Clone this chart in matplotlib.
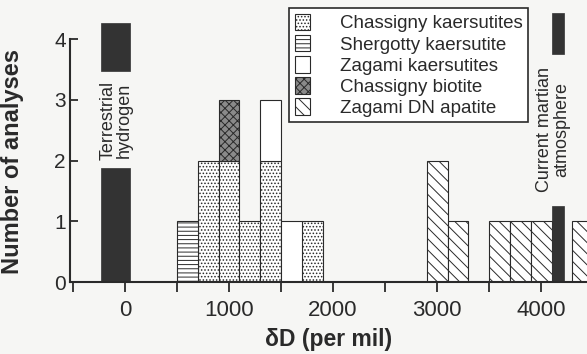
import matplotlib
matplotlib.use("Agg")
import matplotlib.pyplot as plt
from matplotlib.patches import Patch
from matplotlib.ticker import MultipleLocator

plt.rcParams['font.family'] = ['Liberation Sans', 'DejaVu Sans']
plt.rcParams['hatch.linewidth'] = 0.7

BIN = 200

# histogram bins (left edge, per mil) and counts for each series
chas_kaers_x = [700, 900, 1100, 1300, 1700]
chas_kaers_n = [2, 2, 1, 2, 1]
sherg_kaers_x = [500]
sherg_kaers_n = [1]
zag_kaers_x = [1300, 1500]
zag_kaers_n = [1, 1]
chas_bio_x = [900]
chas_bio_n = [1]
zag_apat_x = [2900, 3100, 3500, 3700, 3900, 4300]
zag_apat_n = [2, 1, 1, 1, 1, 1]

# reference bars (terrestrial hydrogen, current martian atmosphere)
terr_x, terr_w = -230, 280
terr_segs = [(0, 1.88), (3.47, 4.27)]
mars_x, mars_w = 4100, 115
mars_segs = [(0, 1.26), (3.75, 4.43)]

series = [
    ("Chassigny kaersutites", chas_kaers_x, chas_kaers_n, dict(facecolor='white', hatch='.....')),
    ("Shergotty kaersutite", sherg_kaers_x, sherg_kaers_n, dict(facecolor='white', hatch='----')),
    ("Zagami kaersutites", zag_kaers_x, zag_kaers_n, dict(facecolor='white', hatch='')),
    ("Chassigny biotite", chas_bio_x, chas_bio_n, dict(facecolor='#8a8a8a', hatch='xxxx')),
    ("Zagami DN apatite", zag_apat_x, zag_apat_n, dict(facecolor='white', hatch='\\\\\\')),
]

bg = '#f6f6f4'
ink = '#2a2a2a'

fig = plt.figure(figsize=(5.87, 3.54), dpi=100, facecolor=bg)
ax = fig.add_axes([0.119, 0.203, 0.881, 0.793])
ax.set_facecolor(bg)

stack = {}
handles = []
for name, xs, ns, style in series:
    bottoms = [stack.get(x, 0) for x in xs]
    ax.bar(xs, ns, width=BIN, bottom=bottoms, align='edge',
           edgecolor=ink, linewidth=0.8, **style)
    for x, n in zip(xs, ns):
        stack[x] = stack.get(x, 0) + n
    handles.append(Patch(edgecolor=ink, linewidth=0.8, label=name, **style))

for lo, hi in terr_segs:
    ax.bar(terr_x, hi - lo, width=terr_w, bottom=lo, align='edge',
           color='#333333', edgecolor='#333333', linewidth=0.5)
for lo, hi in mars_segs:
    ax.bar(mars_x, hi - lo, width=mars_w, bottom=lo, align='edge',
           color='#333333', edgecolor='#333333', linewidth=0.5, clip_on=False)

ax.text(-85, 2.66, "Terrestrial\nhydrogen", rotation=90, ha='center', va='center',
        fontsize=13, color=ink, linespacing=1.0)
ax.text(4115, 2.52, "Current martian\natmosphere", rotation=90, ha='center', va='center',
        fontsize=13, color=ink, linespacing=1.0)

ax.set_xlim(-530, 4440)
ax.set_ylim(0, 4.62)
ax.spines['top'].set_visible(False)
ax.spines['right'].set_visible(False)
ax.spines['left'].set_bounds(0, 4)
for s in ('left', 'bottom'):
    ax.spines[s].set_linewidth(1.5)
    ax.spines[s].set_color(ink)

ax.set_xticks([0, 1000, 2000, 3000, 4000])
ax.xaxis.set_minor_locator(MultipleLocator(500))
ax.set_yticks([0, 1, 2, 3, 4])
ax.tick_params(axis='x', which='both', direction='out', length=7, width=1.3,
               colors=ink, labelsize=16, pad=6)
ax.tick_params(axis='y', direction='in', length=6, width=1.3,
               colors=ink, labelsize=15, pad=3)

ax.set_xlabel("δD (per mil)", fontsize=16.5, fontweight='bold', color=ink, labelpad=5)
ax.set_ylabel("Number of analyses", fontsize=17, fontweight='bold', color=ink)
ax.yaxis.set_label_coords(-0.088, 0.43)

leg = ax.legend(handles=handles, loc='upper left',
                bbox_to_anchor=(289 / 587, 1 - 8 / 354), bbox_transform=fig.transFigure,
                fontsize=13.5, frameon=True, fancybox=False, framealpha=1,
                edgecolor=ink, borderpad=0.3, labelspacing=0.12,
                handlelength=0.8, handleheight=1.0, handletextpad=1.6,
                borderaxespad=0)
leg.get_frame().set_linewidth(1.2)
for t in leg.get_texts():
    t.set_color(ink)

fig.savefig("out.png", dpi=100, facecolor=bg)
